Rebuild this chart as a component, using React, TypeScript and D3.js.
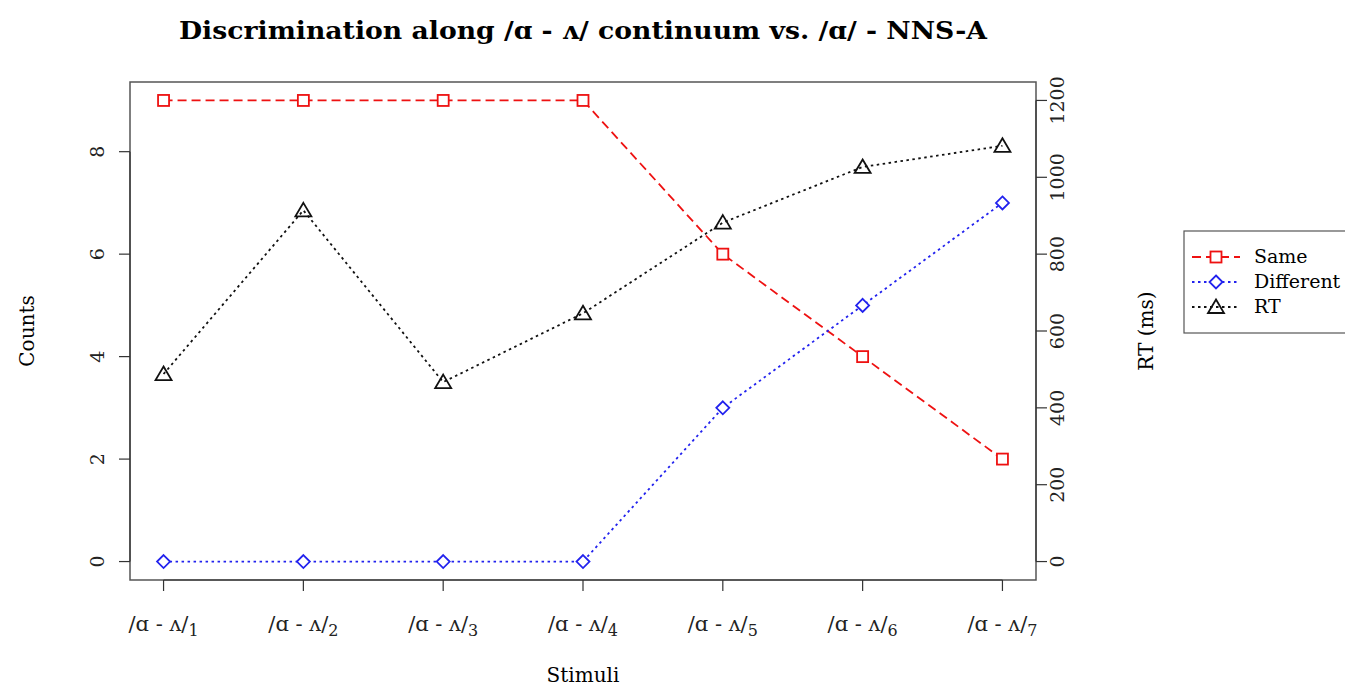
import React from "react";
import * as d3 from "d3";

const categories = [1, 2, 3, 4, 5, 6, 7];
const subscripts = ["1", "2", "3", "4", "5", "6", "7"];
const sameCounts = [9, 9, 9, 9, 6, 4, 2];
const differentCounts = [0, 0, 0, 0, 3, 5, 7];
const rtValues = [488, 914, 467, 646, 882, 1027, 1082];
const leftTicks = [0, 2, 4, 6, 8];
const rightTicks = [0, 200, 400, 600, 800, 1000, 1200];

const W = 1345, H = 689;
const box = { left: 130, right: 1036, top: 82, bottom: 580 };

export default function App() {
  const x = d3.scaleLinear().domain([0.76, 7.24]).range([box.left, box.right]);
  const yL = d3.scaleLinear().domain([-0.36, 9.36]).range([box.bottom, box.top]);
  const yR = d3.scaleLinear().domain([-48, 1248]).range([box.bottom, box.top]);
  const serif = "'DejaVu Serif', serif";

  const lineL = d3.line<number>().x((_, i) => x(categories[i])).y((d) => yL(d));
  const lineR = d3.line<number>().x((_, i) => x(categories[i])).y((d) => yR(d));

  const sq = (cx: number, cy: number, key: any) => (
    <rect key={key} x={cx - 5.5} y={cy - 5.5} width={11} height={11} fill="white" stroke="#ee1111" strokeWidth={1.8} />
  );
  const dia = (cx: number, cy: number, key: any) => (
    <path key={key} d={`M${cx},${cy - 6.5}L${cx + 6.5},${cy}L${cx},${cy + 6.5}L${cx - 6.5},${cy}Z`} fill="white" stroke="#2222ee" strokeWidth={1.8} />
  );
  const tri = (cx: number, cy: number, key: any) => (
    <path key={key} d={`M${cx},${cy - 7.5}L${cx + 8},${cy + 6}L${cx - 8},${cy + 6}Z`} fill="none" stroke="#111" strokeWidth={1.8} />
  );

  const legendItems = [
    { label: "Same", color: "#ee1111", dash: "9 5", m: sq },
    { label: "Different", color: "#2222ee", dash: "2.5 3.5", m: dia },
    { label: "RT", color: "#111", dash: "2.5 3.5", m: tri },
  ];

  return (
    <svg width={W} height={H} style={{ position: "absolute", left: 0, top: 0, background: "white" }}>
      <rect width={W} height={H} fill="white" />
      <text x={583} y={39} textAnchor="middle" fontFamily={serif} fontWeight="bold" fontSize={24}
        textLength={808} lengthAdjust="spacingAndGlyphs">
        Discrimination along /ɑ - ʌ/ continuum vs. /ɑ/ - NNS-A
      </text>

      {/* plot box */}
      <rect x={box.left} y={box.top} width={box.right - box.left} height={box.bottom - box.top} fill="none" stroke="#555" strokeWidth={1.5} />

      {/* left axis */}
      <line x1={box.left} x2={box.left} y1={yL(0)} y2={yL(8)} stroke="#333" strokeWidth={1.2} />
      {leftTicks.map((t) => (
        <g key={"l" + t}>
          <line x1={box.left - 11} x2={box.left} y1={yL(t)} y2={yL(t)} stroke="#333" strokeWidth={1.2} />
          <text transform={`translate(${104},${yL(t)}) rotate(-90)`} textAnchor="middle" fontFamily={serif} fontSize={19} fill="#222">{t}</text>
        </g>
      ))}
      {/* right axis */}
      <line x1={box.right} x2={box.right} y1={yR(0)} y2={yR(1200)} stroke="#333" strokeWidth={1.2} />
      {rightTicks.map((t) => (
        <g key={"r" + t}>
          <line x1={box.right} x2={box.right + 11} y1={yR(t)} y2={yR(t)} stroke="#333" strokeWidth={1.2} />
          <text transform={`translate(${1064},${yR(t)}) rotate(-90)`} textAnchor="middle" fontFamily={serif} fontSize={19} fill="#222">{t}</text>
        </g>
      ))}
      {/* bottom axis */}
      <line x1={x(1)} x2={x(7)} y1={box.bottom} y2={box.bottom} stroke="#333" strokeWidth={1.2} />
      {categories.map((c, i) => (
        <g key={"x" + c}>
          <line x1={x(c)} x2={x(c)} y1={box.bottom} y2={box.bottom + 11} stroke="#333" strokeWidth={1.2} />
          <text x={x(c)} y={631} textAnchor="middle" fontFamily={serif} fontSize={21} fill="#222">
            /ɑ - ʌ/<tspan dy={5} fontSize={16}>{subscripts[i]}</tspan>
          </text>
        </g>
      ))}

      <text x={583} y={682} textAnchor="middle" fontFamily={serif} fontSize={20}>Stimuli</text>
      <text transform={`translate(34,331) rotate(-90)`} textAnchor="middle" fontFamily={serif} fontSize={20}>Counts</text>
      <text transform={`translate(1153,331) rotate(-90)`} textAnchor="middle" fontFamily={serif} fontSize={20}>RT (ms)</text>

      {/* series */}
      <path d={lineL(sameCounts) || ""} fill="none" stroke="#ee1111" strokeWidth={1.8} strokeDasharray="9 5" />
      <path d={lineL(differentCounts) || ""} fill="none" stroke="#2222ee" strokeWidth={1.8} strokeDasharray="2.5 3.5" />
      <path d={lineR(rtValues) || ""} fill="none" stroke="#111" strokeWidth={1.8} strokeDasharray="2.5 3.5" />
      {sameCounts.map((v, i) => sq(x(categories[i]), yL(v), "s" + i))}
      {differentCounts.map((v, i) => dia(x(categories[i]), yL(v), "d" + i))}
      {rtValues.map((v, i) => tri(x(categories[i]), yR(v), "t" + i))}

      {/* legend */}
      <rect x={1184} y={231} width={165} height={102} fill="white" stroke="#555" strokeWidth={1.2} />
      {legendItems.map((it, i) => {
        const ly = 257 + i * 25;
        return (
          <g key={it.label}>
            <line x1={1192} x2={1240} y1={ly} y2={ly} stroke={it.color} strokeWidth={1.8} strokeDasharray={it.dash} />
            {it.m(1216, ly, "lm" + i)}
            <text x={1254} y={ly + 6} fontFamily={serif} fontSize={19}>{it.label}</text>
          </g>
        );
      })}
    </svg>
  );
}
